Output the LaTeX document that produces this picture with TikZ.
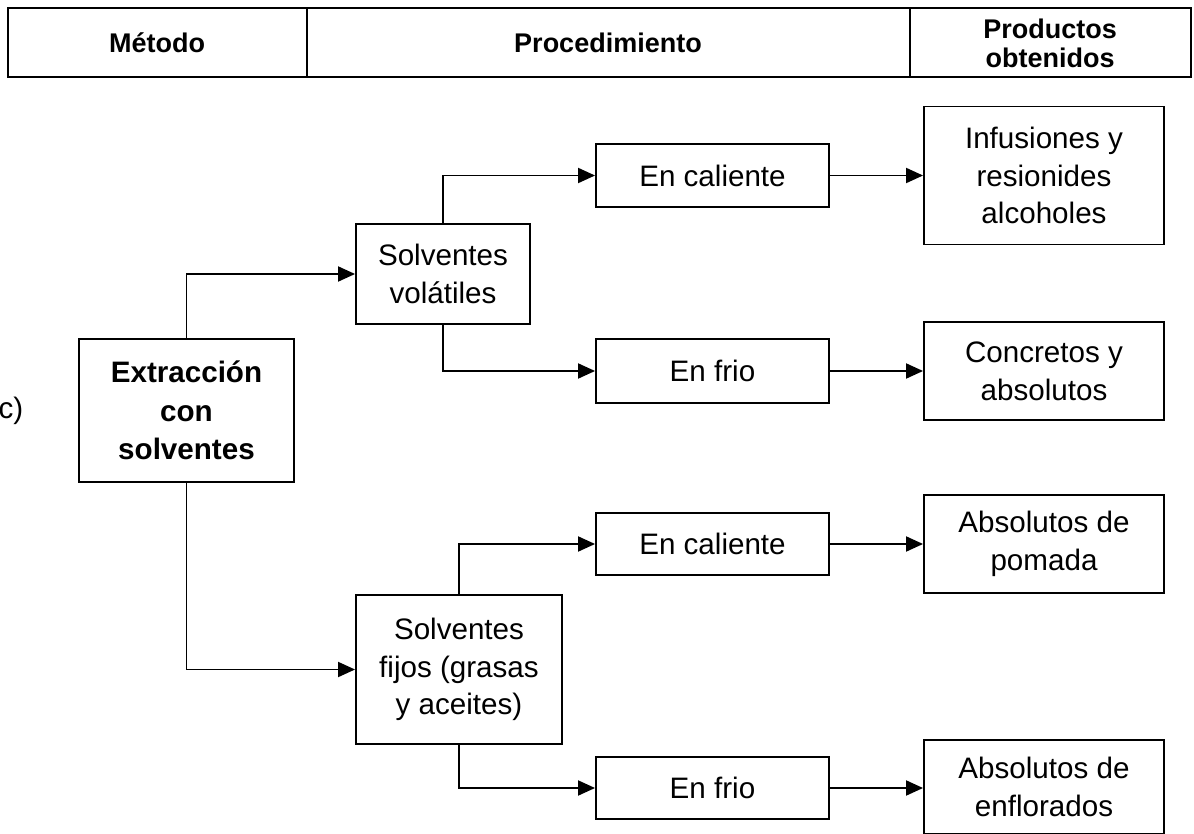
\documentclass[tikz,border=0pt]{standalone}
\usepackage{fontspec}
\setmainfont{Liberation Sans}
\usetikzlibrary{arrows.meta}
\begin{document}
\begin{tikzpicture}[x=0.5pt,y=-0.5pt,
  sz/.style 2 args={minimum width=#1*0.5pt, minimum height=#2*0.5pt},
  box/.style={draw, line width=0.95pt, align=center, inner sep=0pt, font=\fontsize{14.8}{18.9}\selectfont},
  boxb/.style={box, font=\bfseries\fontsize{14.8}{19.2}\selectfont},
  hdr/.style={align=center, inner sep=0pt, font=\bfseries\fontsize{13.5}{14.6}\selectfont},
  conn/.style={line width=0.95pt, -{Triangle[length=8.5pt,width=7.5pt]}}]
\useasboundingbox (0,0) rectangle (1194,834);
% header table
\draw[line width=1pt] (7,8) -- (1192,8);
\draw[line width=1.4pt] (7,77) -- (1192,77);
\draw[line width=0.7pt] (8,8) -- (8,77) (307,8) -- (307,77) (910,8) -- (910,77) (1191,8) -- (1191,77);
\node[hdr] (hm) at (157,43) {Método};
\node[hdr] (hp) at (608,43) {Procedimiento};
\node[hdr] (ho) at (1050,43) {Productos\\obtenidos};
% label
\node[inner sep=0pt, font=\fontsize{14.8}{18.9}\selectfont] (lbl) at (11,411) {c)};
% nodes
\node[boxb, sz={215}{143}] (ext) at (186.5,410.5) {Extracción\\con\\solventes};
\node[box, sz={174}{100}] (sv) at (443,274) {Solventes\\volátiles};
\node[box, sz={206}{149}] (sf) at (459,669.5) {Solventes\\fijos (grasas\\y aceites)};
\node[box, sz={233}{63}] (ec1) at (712.5,175.5) {En caliente};
\node[box, sz={233}{64}] (ef1) at (712.5,371) {En frio};
\node[box, sz={233}{62}] (ec2) at (712.5,544) {En caliente};
\node[box, sz={233}{62}] (ef2) at (712.5,788) {En frio};
\node[box, sz={240}{138}] (inf) at (1044,175.5) {Infusiones y\\resionides\\alcoholes};
\node[box, sz={240}{98}] (con) at (1044,371) {Concretos y\\absolutos};
\node[box, sz={240}{98}] (pom) at (1044,544) {Absolutos de\\pomada};
\node[box, sz={240}{94}] (enf) at (1044,787) {Absolutos de\\enflorados};
% connectors
\draw[conn] (ext.north) |- (sv.west);
\draw[conn] (ext.south) |- (sf.west);
\draw[conn] (sv.north) |- (ec1.west);
\draw[conn] (sv.south) |- (ef1.west);
\draw[conn] (sf.north) |- (ec2.west);
\draw[conn] (sf.south) |- (ef2.west);
\draw[conn] (ec1.east) -- (ec1.east -| inf.west);
\draw[conn] (ef1.east) -- (ef1.east -| con.west);
\draw[conn] (ec2.east) -- (ec2.east -| pom.west);
\draw[conn] (ef2.east) -- (ef2.east -| enf.west);
\end{tikzpicture}
\end{document}
